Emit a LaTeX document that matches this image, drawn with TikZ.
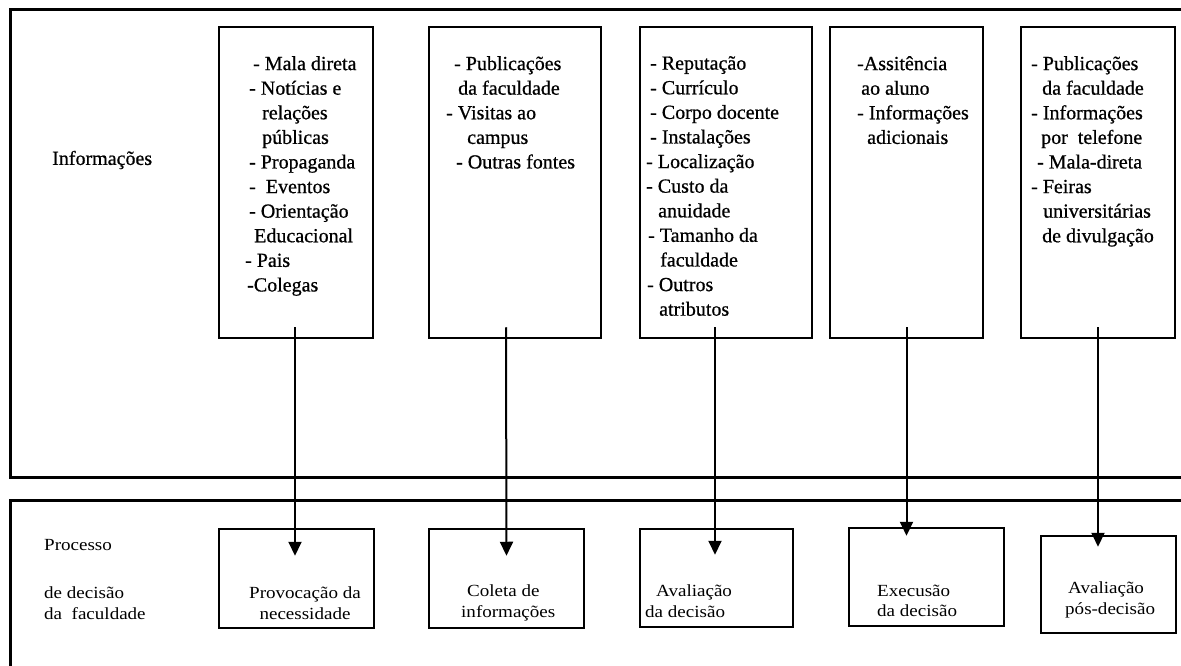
\documentclass[tikz,border=0pt]{standalone}
\usepackage{fontspec}
\setmainfont{Liberation Serif}
\newfontfamily\heavyserif[FakeBold=0.7]{Liberation Serif}
\newfontfamily\lightserif[FakeStretch=1.12]{Liberation Serif}
\usepackage{tikz}
\usetikzlibrary{arrows.meta}

\newcommand{\indt}[1]{\hspace*{#1pt}}

\begin{document}
\begin{tikzpicture}[
    x=1pt, y=-1pt,
    frame/.style={line width=3pt},
    srcbox/.style={draw, line width=2.5pt, minimum width=154pt, minimum height=311pt, inner sep=0pt},
    srctext/.style={anchor=north west, inner sep=0pt, align=left, font=\heavyserif\fontsize{20}{24.6}\selectfont},
    stepbox/.style={draw, line width=2.5pt, inner sep=0pt},
    steptext/.style={inner sep=0pt, font=\lightserif\fontsize{17}{20.5}\selectfont},
    flow/.style={-{Triangle[length=14pt,width=13pt]}, line width=2pt}
]
    \useasboundingbox (0,0) rectangle (1181,666);

    % molduras
    \draw[frame] (1181,10) -- (10,10) -- (10,477) -- (1181,477);
    \draw[frame] (1181,500) -- (10,500) -- (10,666);

    % rótulos à esquerda
    \node[anchor=west, inner sep=0pt, font=\heavyserif\fontsize{20}{24}\selectfont] (infolbl) at (52,160) {Informações};
    \node[steptext, anchor=west] (proclbl) at (44,545) {Processo};
    \node[steptext, anchor=west, align=left] (declbl) at (44,603) {de decisão\\da\ \ faculdade};

    % caixas de informações
    \node[srcbox] (srcA) at (296,182.5) {};
    \node[srcbox, minimum width=172pt] (srcB) at (515,182.5) {};
    \node[srcbox, minimum width=172pt] (srcC) at (726,182.5) {};
    \node[srcbox, minimum width=153pt] (srcD) at (906.5,182.5) {};
    \node[srcbox] (srcE) at (1098,182.5) {};

    \node[srctext] (txtA) at (245,56) {\indt{8}- Mala direta\\ \indt{4}- Notícias e\\ \indt{17}relações\\ \indt{17}públicas\\
        \indt{4}- Propaganda\\ \indt{4}-\ \ Eventos\\ \indt{4}- Orientação\\ \indt{9}Educacional\\ - Pais\\ \indt{2}-Colegas};
    \node[srctext] (txtB) at (446,56) {\indt{8}- Publicações\\ \indt{12}da faculdade\\ - Visitas ao\\ \indt{21}campus\\ \indt{10}- Outras fontes};
    \node[srctext] (txtC) at (646,56) {\indt{4}- Reputação\\ \indt{4}- Currículo\\ \indt{4}- Corpo docente\\ \indt{4}- Instalações\\
        - Localização\\ - Custo da\\ \indt{12}anuidade\\ \indt{2}- Tamanho da\\ \indt{14}faculdade\\ \indt{1}- Outros\\ \indt{13}atributos};
    \node[srctext] (txtD) at (857,56) {-Assitência\\ \indt{4}ao aluno\\ - Informações\\ \indt{10}adicionais};
    \node[srctext] (txtE) at (1031,56) {- Publicações\\ \indt{11}da faculdade\\ - Informações\\ \indt{10}por\ \ telefone\\
        \indt{6}- Mala-direta\\ - Feiras\\ \indt{12}universitárias\\ \indt{11}de divulgação};

    % etapas do processo de decisão
    \node[stepbox, minimum width=155pt, minimum height=99pt] (stepA) at (296.5,578.5) {};
    \node[stepbox, minimum width=155pt, minimum height=99pt] (stepB) at (506.5,578.5) {};
    \node[stepbox, minimum width=153pt, minimum height=98pt] (stepC) at (716.5,578) {};
    \node[stepbox, minimum width=155pt, minimum height=98pt] (stepD) at (926.5,577) {};
    \node[stepbox, minimum width=135pt, minimum height=97pt] (stepE) at (1108.5,584.5) {};

    \node[steptext, align=center] (stepAtxt) at (305,603) {Provocação da\\necessidade};
    \node[steptext, align=left, anchor=west] (stepBtxt) at (461,603) {\indt{6}Coleta de\\informações};
    \node[steptext, align=left, anchor=west] (stepCtxt) at (645,601) {\indt{11}Avaliação\\da decisão};
    \node[steptext, align=left, anchor=west] (stepDtxt) at (877,601) {Execusão\\da decisão};
    \node[steptext, align=left, anchor=west] (stepEtxt) at (1065,600) {\indt{3}Avaliação\\pós-decisão};

    % setas
    \draw[flow] ([xshift=-1pt,yshift=12pt]srcA.south) -- ([xshift=-1.5pt,yshift=-28pt]stepA.north);
    \draw[flow] ([xshift=-9pt,yshift=12pt]srcB.south) -- ([yshift=-28pt]stepB.north);
    \draw[flow] ([xshift=-11pt,yshift=12pt]srcC.south) -- ([xshift=-1.5pt,yshift=-27pt]stepC.north);
    \draw[flow] ([yshift=12pt]srcD.south) -- ([xshift=-20pt,yshift=-9pt]stepD.north);
    \draw[flow] ([yshift=12pt]srcE.south) -- ([xshift=-10.5pt,yshift=-12pt]stepE.north);
\end{tikzpicture}
\end{document}
